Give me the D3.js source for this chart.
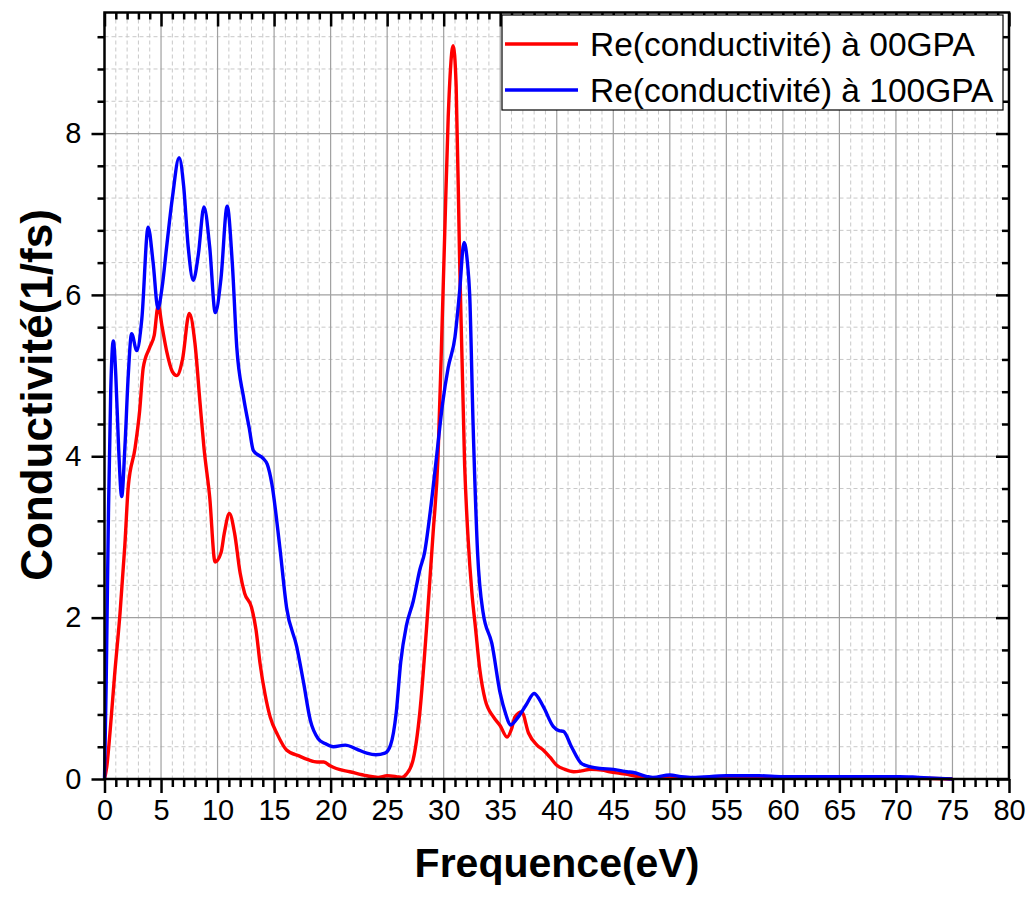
<!DOCTYPE html>
<html>
<head>
<meta charset="utf-8">
<script src="https://cdn.jsdelivr.net/npm/d3@7"></script>
<style>
  body { margin: 0; background: #fff; }
  svg { display: block; }
  text { font-family: Arial, "Liberation Sans", sans-serif; }
</style>
</head>
<body>
<svg id="chart" width="1036" height="906"></svg>
<script>
// ---- data ----
const seriesNames = ["Re(conductivité) à 00GPA", "Re(conductivité) à 100GPA"];
const seriesColors = ["#ff0000", "#0000ff"];

const redX = [0, 0.2, 0.5, 0.9, 1.37, 1.8, 2.1, 2.7, 3.1, 3.43, 4.0, 4.4, 4.75, 5.1, 5.5, 6.0, 6.4, 6.9, 7.5, 8.0, 8.45, 8.8, 9.3, 9.78, 10.3, 10.6, 11.05, 11.5, 12.0, 12.4, 13.0, 13.4, 13.76, 14.2, 14.65, 15.3, 16.1, 17.3, 18.0, 18.8, 19.4, 20.0, 20.5, 21.7, 23.2, 24.2, 25.0, 25.8, 26.3, 26.7, 27.3, 27.9, 28.5, 29.06, 29.5, 29.8, 30.1, 30.4, 30.84, 31.1, 31.4, 31.85, 32.15, 32.5, 32.8, 33.2, 33.67, 34.4, 35.0, 35.6, 36.0, 36.3, 36.9, 37.5, 38.25, 38.8, 39.4, 40.0, 40.7, 41.5, 42.2, 43.0, 44.0, 44.7, 45.6, 46.5, 48.0, 49.0, 50.0, 51.0, 52.0, 54.0, 56.0, 58.0, 60.0, 62.0, 64.0, 66.0, 68.0, 70.0, 72.0, 75.0];
const redY = [0, 0.15, 0.6, 1.3, 2.05, 2.9, 3.62, 4.1, 4.55, 5.1, 5.35, 5.5, 5.87, 5.6, 5.3, 5.05, 5.0, 5.2, 5.77, 5.4, 4.66, 4.1, 3.5, 2.69, 2.8, 3.05, 3.29, 3.05, 2.55, 2.3, 2.13, 1.85, 1.43, 1.05, 0.77, 0.55, 0.36, 0.28, 0.24, 0.21, 0.21, 0.16, 0.13, 0.09, 0.04, 0.02, 0.04, 0.03, 0.02, 0.06, 0.24, 0.84, 1.9, 3.04, 4.0, 5.34, 6.8, 8.2, 9.09, 8.6, 6.5, 3.9, 3.0, 2.3, 1.89, 1.35, 0.98, 0.77, 0.66, 0.52, 0.62, 0.77, 0.83, 0.57, 0.42, 0.36, 0.27, 0.17, 0.12, 0.09, 0.1, 0.12, 0.11, 0.09, 0.07, 0.05, 0.01, 0.01, 0.03, 0.02, 0.01, 0.01, 0.02, 0.02, 0.01, 0.02, 0.02, 0.02, 0.01, 0.01, 0.01, 0.0];

const blueX = [0, 0.15, 0.35, 0.55, 0.78, 1.0, 1.25, 1.52, 1.8, 2.1, 2.4, 2.85, 3.3, 3.86, 4.3, 4.73, 5.1, 5.5, 6.0, 6.6, 7.0, 7.4, 7.85, 8.3, 8.8, 9.3, 9.8, 10.3, 10.85, 11.3, 11.7, 12.3, 12.8, 13.17, 14.05, 14.4, 14.8, 15.5, 16.1, 17.0, 17.6, 18.2, 18.9, 19.5, 20.25, 21.3, 22.3, 23.2, 24.0, 24.8, 25.3, 25.8, 26.2, 26.7, 27.3, 27.9, 28.3, 28.8, 29.35, 29.9, 30.4, 31.0, 31.4, 31.8, 32.1, 32.3, 32.6, 33.0, 33.5, 34.26, 35.0, 35.5, 35.9, 36.6, 37.3, 38.0, 38.8, 39.7, 40.2, 40.6, 41.3, 42.2, 43.0, 43.85, 45.0, 46.2, 46.8, 48.0, 48.5, 50.0, 51.0, 52.0, 55.0, 57.9, 60.0, 63.0, 66.0, 70.3, 72.0, 75.0];
const blueY = [0, 1.2, 3.3, 4.8, 5.43, 5.0, 4.1, 3.5, 4.1, 5.0, 5.52, 5.31, 5.7, 6.84, 6.4, 5.83, 6.1, 6.6, 7.2, 7.7, 7.35, 6.6, 6.18, 6.5, 7.09, 6.6, 5.78, 6.2, 7.1, 6.4, 5.35, 4.73, 4.35, 4.07, 3.97, 3.9, 3.66, 2.88, 2.13, 1.64, 1.2, 0.73, 0.5, 0.44, 0.4, 0.42, 0.37, 0.32, 0.3, 0.32, 0.42, 0.82, 1.45, 1.9, 2.2, 2.6, 2.8, 3.3, 3.97, 4.65, 5.1, 5.48, 6.03, 6.65, 6.4, 6.0, 4.4, 2.8, 2.05, 1.68, 1.06, 0.8, 0.67, 0.77, 0.92, 1.06, 0.9, 0.65, 0.6, 0.59, 0.4, 0.19, 0.15, 0.13, 0.12, 0.09, 0.08, 0.03, 0.02, 0.05, 0.03, 0.02, 0.04, 0.04, 0.03, 0.03, 0.03, 0.03, 0.02, 0.0];

const xTickValues = [0, 5, 10, 15, 20, 25, 30, 35, 40, 45, 50, 55, 60, 65, 70, 75, 80];
const yTickValues = [0, 2, 4, 6, 8];
const xLabel = "Frequence(eV)";
const yLabel = "Conductivité(1/fs)";

// ---- layout ----
const svg = d3.select("#chart");
const L = 104.5, R = 1009, T = 12.5, B = 779;
const x = d3.scaleLinear().domain([0, 80]).range([L, R]);
const y = d3.scaleLinear().domain([0, 9.5]).range([B, T]);

const xMinor = d3.range(0, 80.001, 1).filter(v => v % 5 !== 0);
const yMinor = d3.range(0, 9.5, 0.4).filter(v => Math.abs(v / 2 - Math.round(v / 2)) > 1e-6);

// minor grid
const g = svg.append("g");
g.selectAll(".vmin").data(xMinor).enter().append("line")
  .attr("x1", d => x(d)).attr("x2", d => x(d)).attr("y1", T).attr("y2", B)
  .attr("stroke", "#c8c8c8").attr("stroke-width", 1).attr("stroke-dasharray", "4,3");
g.selectAll(".hmin").data(yMinor).enter().append("line")
  .attr("x1", L).attr("x2", R).attr("y1", d => y(d)).attr("y2", d => y(d))
  .attr("stroke", "#c8c8c8").attr("stroke-width", 1).attr("stroke-dasharray", "4,3");
// major grid
g.selectAll(".vmaj").data(xTickValues.slice(1, -1)).enter().append("line")
  .attr("x1", d => x(d)).attr("x2", d => x(d)).attr("y1", T).attr("y2", B)
  .attr("stroke", "#a0a0a0").attr("stroke-width", 1.2);
g.selectAll(".hmaj").data(yTickValues.slice(1)).enter().append("line")
  .attr("x1", L).attr("x2", R).attr("y1", d => y(d)).attr("y2", d => y(d))
  .attr("stroke", "#a0a0a0").attr("stroke-width", 1.2);

// lines
const line = d3.line().x(d => x(d[0])).y(d => y(d[1])).curve(d3.curveMonotoneX);
const redData = redX.map((v, i) => [v, redY[i]]);
const blueData = blueX.map((v, i) => [v, blueY[i]]);
svg.append("path").datum(redData).attr("d", line).attr("fill", "none")
  .attr("stroke", seriesColors[0]).attr("stroke-width", 3.4).attr("stroke-linejoin", "round");
svg.append("path").datum(blueData).attr("d", line).attr("fill", "none")
  .attr("stroke", seriesColors[1]).attr("stroke-width", 3.4).attr("stroke-linejoin", "round");

// axes
function styleAxis(sel) {
  sel.select(".domain").remove();
  sel.selectAll("line").attr("stroke", "#000").attr("stroke-width", 2.5);
  sel.selectAll("text").attr("font-size", 29).attr("fill", "#000")
     .attr("font-family", "Arial, 'Liberation Sans', sans-serif");
}
// bottom
svg.append("g").attr("transform", `translate(0,${B})`)
  .call(d3.axisBottom(x).tickValues(xTickValues).tickSize(14).tickPadding(6).tickFormat(d3.format("d")))
  .call(styleAxis);
svg.append("g").attr("transform", `translate(0,${B})`)
  .call(d3.axisBottom(x).tickValues(xMinor).tickSize(8).tickFormat(""))
  .call(styleAxis);
// top (inward)
svg.append("g").attr("transform", `translate(0,${T})`)
  .call(d3.axisBottom(x).tickValues(xTickValues).tickSize(14).tickFormat(""))
  .call(styleAxis);
svg.append("g").attr("transform", `translate(0,${T})`)
  .call(d3.axisBottom(x).tickValues(xMinor).tickSize(7).tickFormat(""))
  .call(styleAxis);
// left
svg.append("g").attr("transform", `translate(${L},0)`)
  .call(d3.axisLeft(y).tickValues(yTickValues).tickSize(13).tickPadding(10).tickFormat(d3.format("d")))
  .call(styleAxis);
svg.append("g").attr("transform", `translate(${L},0)`)
  .call(d3.axisLeft(y).tickValues(yMinor).tickSize(7).tickFormat(""))
  .call(styleAxis);
// right (inward)
svg.append("g").attr("transform", `translate(${R},0)`)
  .call(d3.axisLeft(y).tickValues(yTickValues).tickSize(13).tickFormat(""))
  .call(styleAxis);
svg.append("g").attr("transform", `translate(${R},0)`)
  .call(d3.axisLeft(y).tickValues(yMinor).tickSize(7).tickFormat(""))
  .call(styleAxis);

// frame
svg.append("rect").attr("x", L).attr("y", T).attr("width", R - L).attr("height", B - T)
  .attr("fill", "none").attr("stroke", "#000").attr("stroke-width", 2.5);

// axis labels
svg.append("text").attr("x", 557).attr("y", 877).attr("text-anchor", "middle")
  .attr("font-size", 41).attr("font-weight", "bold").text(xLabel);
svg.append("text").attr("transform", "translate(52,395) rotate(-90)").attr("text-anchor", "middle")
  .attr("font-size", 44).attr("font-weight", "bold").text(yLabel);

// legend
const lg = svg.append("g");
lg.append("rect").attr("x", 502).attr("y", 15).attr("width", 501).attr("height", 95)
  .attr("fill", "#fff").attr("stroke", "#000").attr("stroke-width", 1.2);
seriesNames.forEach((name, i) => {
  const cy = 44 + i * 46;
  lg.append("line").attr("x1", 505).attr("x2", 578).attr("y1", cy).attr("y2", cy)
    .attr("stroke", seriesColors[i]).attr("stroke-width", 3.4);
  lg.append("text").attr("x", 590).attr("y", cy + 12).attr("font-size", 33.5).attr("fill", "#000").text(name);
});
</script>
</body>
</html>
